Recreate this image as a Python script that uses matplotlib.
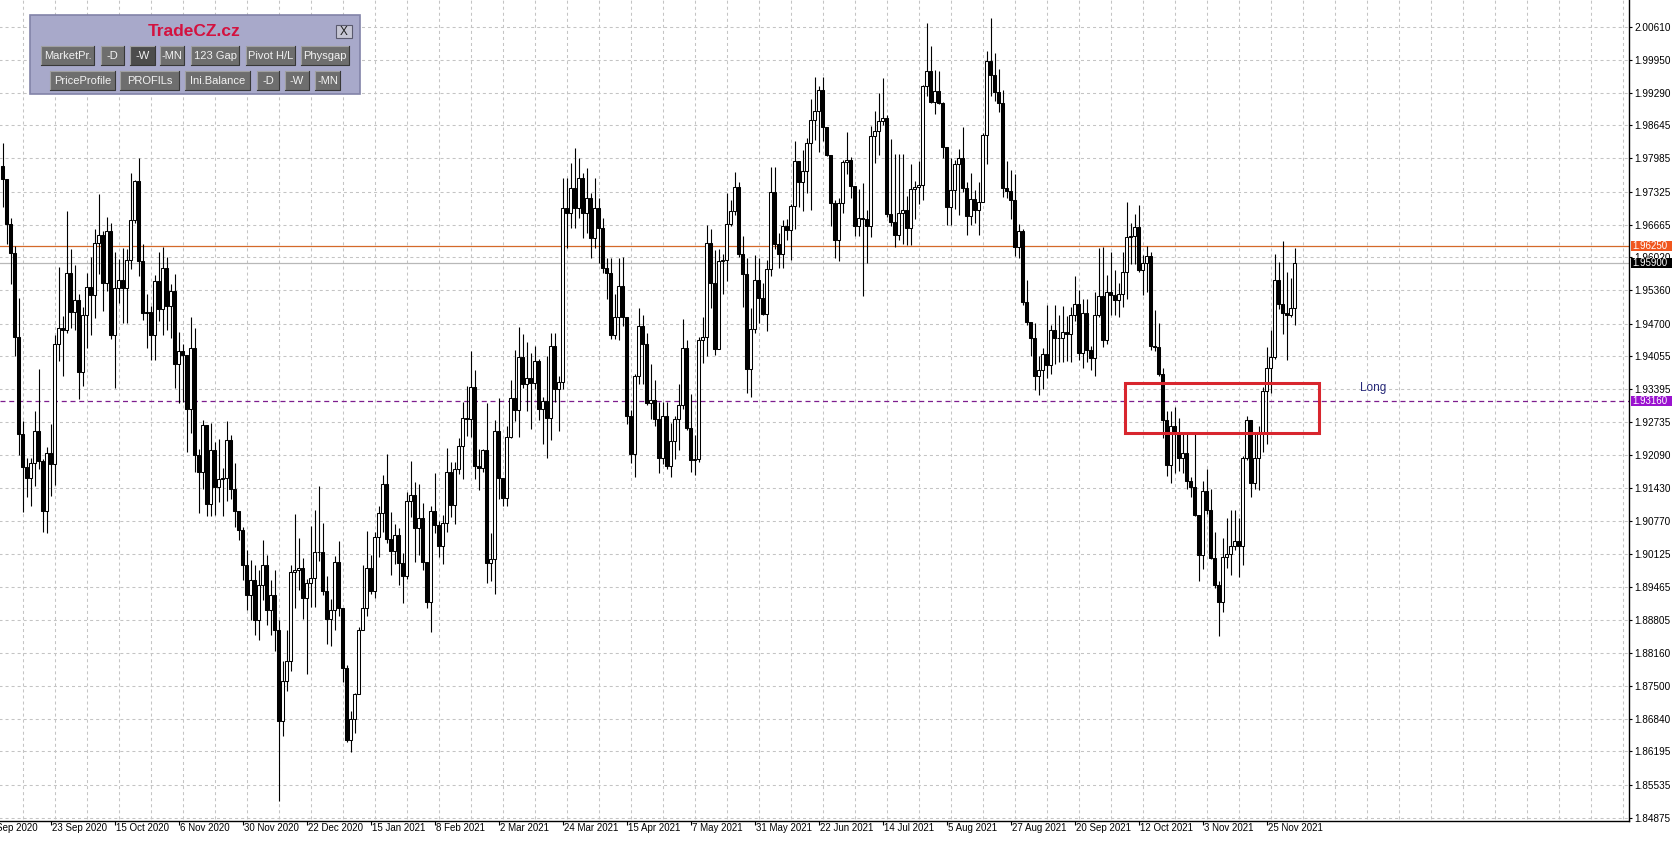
import numpy as np
import matplotlib
matplotlib.use('Agg')
import matplotlib.pyplot as plt
from matplotlib.patches import Rectangle
from matplotlib.transforms import blended_transform_factory

## Daily OHLC values, in 1e-4 price units (one entry per bar, oldest first)
first_open = 19783
close = [
    19757, 19668, 19610, 19443, 19250, 19184, 19164, 19193, 19256, 19196,
    19098, 19213, 19190, 19430, 19462, 19458, 19570, 19494, 19518, 19374,
    19487, 19543, 19528, 19630, 19646, 19550, 19655, 19448, 19540, 19556,
    19540, 19596, 19677, 19753, 19594, 19492, 19494, 19448, 19555, 19500,
    19581, 19506, 19534, 19390, 19416, 19408, 19300, 19422, 19208, 19176,
    19268, 19111, 19218, 19146, 19162, 19164, 19238, 19142, 19098, 19060,
    18990, 18930, 18960, 18880, 18950, 18990, 18900, 18930, 18860, 18680,
    18760, 18800, 18976, 18980, 18984, 18925, 18954, 18965, 19016, 19016,
    18938, 18882, 18900, 18996, 18904, 18785, 18642, 18683, 18733, 18860,
    18904, 18984, 18939, 19045, 19094, 19152, 19042, 19018, 19049, 18994,
    18969, 19117, 19130, 19063, 19084, 18997, 18917, 19098, 19069, 19027,
    19074, 19175, 19109, 19180, 19227, 19283, 19280, 19345, 19187, 19182,
    19218, 18994, 19002, 19256, 19164, 19124, 19244, 19323, 19298, 19404,
    19351, 19361, 19352, 19396, 19300, 19316, 19283, 19426, 19340, 19354,
    19700, 19690, 19740, 19700, 19760, 19690, 19720, 19640, 19700, 19660,
    19581, 19570, 19447, 19483, 19545, 19483, 19287, 19210, 19365, 19465,
    19430, 19312, 19318, 19280, 19203, 19286, 19187, 19237, 19281, 19308,
    19422, 19262, 19198, 19201, 19437, 19444, 19631, 19551, 19419, 19595,
    19597, 19669, 19695, 19741, 19608, 19569, 19380, 19460, 19557, 19521,
    19490, 19579, 19731, 19628, 19609, 19664, 19656, 19704, 19793, 19752,
    19773, 19829, 19876, 19893, 19935, 19861, 19806, 19710, 19636, 19709,
    19791, 19795, 19743, 19665, 19681, 19678, 19664, 19843, 19854, 19873,
    19880, 19688, 19672, 19647, 19690, 19697, 19661, 19738, 19742, 19745,
    19942, 19973, 19911, 19933, 19909, 19822, 19702, 19735, 19788, 19800,
    19739, 19684, 19717, 19696, 19712, 19845, 19992, 19965, 19931, 19908,
    19739, 19734, 19715, 19623, 19654, 19514, 19473, 19441, 19365, 19377,
    19410, 19387, 19458, 19441, 19442, 19454, 19450, 19487, 19509, 19411,
    19491, 19418, 19401, 19487, 19525, 19438, 19532, 19528, 19517, 19529,
    19572, 19642, 19644, 19662, 19576, 19590, 19605, 19426, 19424, 19369,
    19279, 19188, 19267, 19251, 19202, 19213, 19157, 19145, 19090, 19009,
    19137, 19100, 19004, 18950, 18917, 19006, 19011, 19028, 19037, 19027,
    19202, 19279, 19153, 19202, 19255, 19336, 19381, 19403, 19557, 19509,
    19491, 19487, 19502, 19590,
]
high = [
    19830, 19755, 19680, 19625, 19522, 19276, 19202, 19203, 19296, 19380,
    19200, 19225, 19270, 19448, 19583, 19485, 19695, 19618, 19587, 19530,
    19503, 19570, 19603, 19658, 19727, 19655, 19682, 19670, 19612, 19598,
    19620, 19618, 19770, 19755, 19800, 19628, 19530, 19505, 19567, 19613,
    19622, 19602, 19548, 19568, 19453, 19430, 19408, 19483, 19462, 19220,
    19278, 19263, 19272, 19235, 19240, 19182, 19276, 19248, 19192, 19088,
    19065, 19020, 19000, 18990, 18980, 19040, 19010, 18960, 18980, 18880,
    18800, 18860, 18990, 19091, 19044, 19004, 18962, 19067, 19100, 19147,
    19074, 18969, 18922, 19007, 19038, 18904, 18792, 18699, 18735, 18867,
    18991, 19058, 19009, 19056, 19107, 19169, 19211, 19096, 19071, 19063,
    19014, 19136, 19196, 19156, 19152, 19114, 18997, 19107, 19174, 19078,
    19089, 19223, 19194, 19194, 19242, 19314, 19347, 19416, 19378, 19220,
    19220, 19312, 19053, 19278, 19322, 19162, 19267, 19358, 19418, 19463,
    19450, 19434, 19412, 19426, 19399, 19325, 19405, 19452, 19452, 19365,
    19760, 19760, 19790, 19820, 19800, 19770, 19780, 19730, 19760, 19720,
    19680, 19600, 19600, 19530, 19601, 19602, 19483, 19298, 19369, 19501,
    19488, 19451, 19390, 19358, 19315, 19315, 19315, 19273, 19287, 19351,
    19480, 19438, 19330, 19248, 19444, 19483, 19667, 19658, 19616, 19619,
    19609, 19729, 19715, 19772, 19751, 19644, 19601, 19501, 19606, 19601,
    19551, 19597, 19781, 19781, 19651, 19676, 19679, 19708, 19833, 19788,
    19816, 19840, 19916, 19961, 19943, 19961, 19851, 19806, 19716, 19719,
    19795, 19852, 19801, 19738, 19738, 19749, 19697, 19863, 19892, 19929,
    19958, 19885, 19838, 19808, 19808, 19808, 19724, 19788, 19754, 19793,
    19945, 20068, 20023, 19975, 19973, 19911, 19822, 19800, 19796, 19817,
    19861, 19752, 19769, 19735, 19752, 19849, 20012, 20077, 20008, 19976,
    19935, 19794, 19776, 19768, 19669, 19658, 19556, 19473, 19471, 19406,
    19422, 19507, 19468, 19507, 19487, 19506, 19485, 19503, 19564, 19536,
    19520, 19520, 19426, 19533, 19621, 19623, 19566, 19613, 19576, 19550,
    19613, 19711, 19670, 19688, 19707, 19607, 19625, 19613, 19497, 19471,
    19381, 19296, 19296, 19304, 19283, 19251, 19255, 19165, 19255, 19090,
    19157, 19180, 19141, 19055, 18958, 19043, 19084, 19100, 19099, 19084,
    19206, 19287, 19270, 19251, 19267, 19344, 19424, 19458, 19609, 19593,
    19635, 19572, 19560, 19621,
]
low = [
    19702, 19628, 19548, 19405, 19208, 19096, 19125, 19108, 19148, 19180,
    19055, 19053, 19128, 19150, 19395, 19365, 19452, 19462, 19457, 19320,
    19346, 19422, 19448, 19482, 19568, 19496, 19535, 19440, 19342, 19512,
    19472, 19472, 19578, 19670, 19565, 19478, 19422, 19398, 19398, 19475,
    19448, 19457, 19442, 19342, 19312, 19315, 19215, 19252, 19175, 19094,
    19142, 19088, 19088, 19090, 19115, 19088, 19117, 19122, 19065, 19040,
    18960, 18900, 18880, 18850, 18840, 18920, 18870, 18850, 18820, 18520,
    18650, 18740, 18780, 18905, 18940, 18882, 18773, 18907, 18907, 18998,
    18930, 18832, 18829, 18860, 18889, 18758, 18638, 18619, 18656, 18733,
    18860, 18889, 18933, 18925, 19005, 19056, 19034, 18970, 18992, 18951,
    18915, 18962, 19085, 18997, 19009, 18980, 18904, 18856, 19053, 19005,
    18992, 19056, 19085, 19071, 19171, 19162, 19247, 19245, 19162, 19140,
    19176, 18954, 18958, 18933, 19122, 19107, 19107, 19242, 19276, 19245,
    19343, 19296, 19260, 19340, 19278, 19231, 19202, 19239, 19314, 19256,
    19341, 19620, 19660, 19660, 19680, 19640, 19650, 19600, 19620, 19590,
    19570, 19520, 19440, 19440, 19437, 19465, 19270, 19193, 19166, 19351,
    19351, 19308, 19280, 19267, 19173, 19191, 19180, 19166, 19201, 19219,
    19301, 19258, 19176, 19169, 19195, 19392, 19405, 19501, 19408, 19458,
    19529, 19554, 19665, 19686, 19602, 19504, 19333, 19324, 19451, 19472,
    19487, 19456, 19565, 19619, 19581, 19581, 19636, 19597, 19658, 19702,
    19694, 19729, 19697, 19836, 19811, 19833, 19804, 19665, 19601, 19594,
    19690, 19768, 19719, 19644, 19644, 19526, 19590, 19642, 19790, 19806,
    19865, 19683, 19665, 19622, 19636, 19629, 19626, 19626, 19679, 19708,
    19716, 19922, 19909, 19886, 19906, 19799, 19666, 19666, 19699, 19686,
    19731, 19646, 19666, 19670, 19647, 19712, 19788, 19923, 19913, 19890,
    19721, 19719, 19678, 19605, 19601, 19507, 19467, 19406, 19338, 19328,
    19340, 19361, 19369, 19389, 19393, 19393, 19395, 19393, 19475, 19397,
    19381, 19393, 19377, 19365, 19483, 19424, 19430, 19487, 19487, 19484,
    19503, 19519, 19589, 19589, 19572, 19528, 19532, 19418, 19416, 19365,
    19243, 19167, 19153, 19173, 19177, 19173, 19141, 19125, 19088, 18958,
    18982, 19092, 19002, 18944, 18848, 18897, 18985, 18970, 19019, 18966,
    18990, 19198, 19125, 19141, 19139, 19214, 19230, 19332, 19400, 19500,
    19450, 19397, 19483, 19467,
]

## Axis labels
date_labels = ['1 Sep 2020', '23 Sep 2020', '15 Oct 2020', '6 Nov 2020', '30 Nov 2020',
               '22 Dec 2020', '15 Jan 2021', '8 Feb 2021', '2 Mar 2021', '24 Mar 2021',
               '15 Apr 2021', '7 May 2021', '31 May 2021', '22 Jun 2021', '14 Jul 2021',
               '5 Aug 2021', '27 Aug 2021', '20 Sep 2021', '12 Oct 2021', '3 Nov 2021',
               '25 Nov 2021']
date_label_bars = list(range(-4, 317, 16))
price_ticks = [2.00610, 1.99950, 1.99290, 1.98645, 1.97985, 1.97325, 1.96665, 1.96020,
               1.95360, 1.94700, 1.94055, 1.93395, 1.92735, 1.92090, 1.91430, 1.90770,
               1.90125, 1.89465, 1.88805, 1.88160, 1.87500, 1.86840, 1.86195, 1.85535,
               1.84875]

## Levels drawn on the chart
ask_price = 1.96250
bid_price = 1.95900
long_level = 1.93160
zone_bars = (280.6, 329.1)
zone_prices = (1.92525, 1.93520)

## Indicator panel buttons: (label, left px, right px, row, pressed)
buttons = [('MarketPr.', 41, 94, 0, False), ('-D', 101, 124, 0, False), ('-W', 130, 155, 0, True),
           ('-MN', 160, 184, 0, False), ('123 Gap', 191, 239, 0, False), ('Pivot H/L', 246, 295, 0, False),
           ('Physgap', 301, 349, 0, False), ('PriceProfile', 50, 115, 1, False), ('PROFILs', 120, 179, 1, False),
           ('Ini.Balance', 185, 250, 1, False), ('-D', 257, 279, 1, False), ('-W', 285, 309, 1, False),
           ('-MN', 315, 340, 1, False)]

plt.rcParams['font.family'] = ['Liberation Sans', 'DejaVu Sans']

c = np.array(close) / 1e4
h = np.array(high) / 1e4
l = np.array(low) / 1e4
o = np.concatenate([[first_open / 1e4], c[:-1]])
h = np.maximum(h, np.maximum(o, c))
l = np.minimum(l, np.minimum(o, c))
x = np.arange(len(c))
up = c >= o

W, H = 1676, 842
fig = plt.figure(figsize=(W / 100, H / 100), dpi=100)
fig.patch.set_facecolor('white')
ax = fig.add_axes([0, (H - 821) / H, 1629 / W, 821 / H])
ax.set_xlim(-0.625, -0.625 + 1629 / 4.0)
ax.set_ylim(1.84875 - 3.3 / 5028, 2.00610 + 26.5 / 5028)

# grid
grid_kw = dict(color='#C4C4C4', lw=0.75, ls=(0, (2.9, 2.9)), zorder=0.5)
ax.hlines(price_ticks, -1, 410, **grid_kw)
ax.vlines(np.arange(5, 407, 8), 1.84, 2.02, **grid_kw)

# levels
ax.axhline(ask_price, color='#D4692A', lw=0.9, zorder=1)
ax.axhline(bid_price, color='#B8B8B8', lw=0.9, zorder=1)
ax.axhline(long_level, color='#7D1E8E', lw=0.9, ls=(0, (4, 3)), zorder=1)

# candles
ax.vlines(x, l, h, color='black', lw=0.8, zorder=2)
ax.bar(x[up], (c - o)[up], bottom=o[up], width=0.55, facecolor='white',
       edgecolor='black', lw=0.75, zorder=3)
ax.bar(x[~up], (o - c)[~up], bottom=c[~up], width=0.55, facecolor='black',
       edgecolor='black', lw=0.75, zorder=3)

# zone + label
ax.add_patch(Rectangle((zone_bars[0], zone_prices[0]), zone_bars[1] - zone_bars[0],
                       zone_prices[1] - zone_prices[0], fill=False,
                       edgecolor='#D8262E', lw=2.2, zorder=4))
ax.text(339.4, 1.9342, 'Long', color='#262878', fontsize=8.5, ha='left', va='center')

# axes styling
for s in ['left', 'top']:
    ax.spines[s].set_visible(False)
for s in ['right', 'bottom']:
    ax.spines[s].set_linewidth(1.0)
    ax.spines[s].set_color('black')
ax.yaxis.tick_right()
ax.set_yticks(price_ticks)
ax.set_yticklabels(['%.5f' % p for p in price_ticks])
ax.tick_params(axis='y', length=2.5, width=0.8, pad=1.2, labelsize=7.2, colors='black')
ax.set_xticks([b for b in date_label_bars if b >= 0])
ax.set_xticklabels([])
ax.tick_params(axis='x', length=3, width=0.8)
for b, lab in zip(date_label_bars, date_labels):
    ax.annotate(lab, xy=(b, 0), xycoords=('data', 'axes fraction'), xytext=(0.8, -1.5),
                textcoords='offset points', ha='left', va='top', fontsize=7,
                annotation_clip=False)

# price boxes on the right axis
bt = blended_transform_factory(ax.transAxes, ax.transData)
for price, col in [(ask_price, '#F0561D'), (bid_price, '#000000'), (long_level, '#9A12CF')]:
    ax.add_patch(Rectangle((1.00104, price - 0.001), 0.02517, 0.002, transform=bt,
                           facecolor=col, edgecolor='none', clip_on=False, zorder=6))
    ax.text(1.0022, price, '%.5f' % price, transform=bt, color='white', fontsize=7,
            ha='left', va='center', zorder=7, clip_on=False)

# indicator panel (pixel overlay)
ov = fig.add_axes([0, 0, 1, 1])
ov.set_xlim(0, W)
ov.set_ylim(H, 0)
ov.axis('off')
ov.patch.set_alpha(0)
ov.add_patch(Rectangle((30, 15), 330, 79, facecolor='#A8A9CA', edgecolor='#8283A8', lw=1.2))
ov.text(194, 31.5, 'TradeCZ.cz', color='#D3123F', fontsize=12.5, fontweight='bold',
        ha='center', va='center')
ov.add_patch(Rectangle((336, 25), 16, 13, facecolor='#C6C6D4', edgecolor='#5A5A6E', lw=0.8))
ov.text(344, 31.8, 'X', color='#1E1E1E', fontsize=8.5, ha='center', va='center')
for lab, x0, x1, row, pressed in buttons:
    y0 = 46 if row == 0 else 71
    ov.add_patch(Rectangle((x0, y0), x1 - x0, 19,
                           facecolor='#4C4C4C' if pressed else '#6E6E6E', edgecolor='none'))
    ov.plot([x0, x0, x1], [y0 + 19, y0, y0], color='#A0A0A0', lw=0.8)
    ov.plot([x0, x1, x1], [y0 + 19, y0 + 19, y0], color='#383838', lw=0.8)
    ov.text((x0 + x1) / 2, y0 + 10, lab, color='#F2F2F2', fontsize=8, ha='center', va='center')

fig.savefig('out.png', dpi=100)
